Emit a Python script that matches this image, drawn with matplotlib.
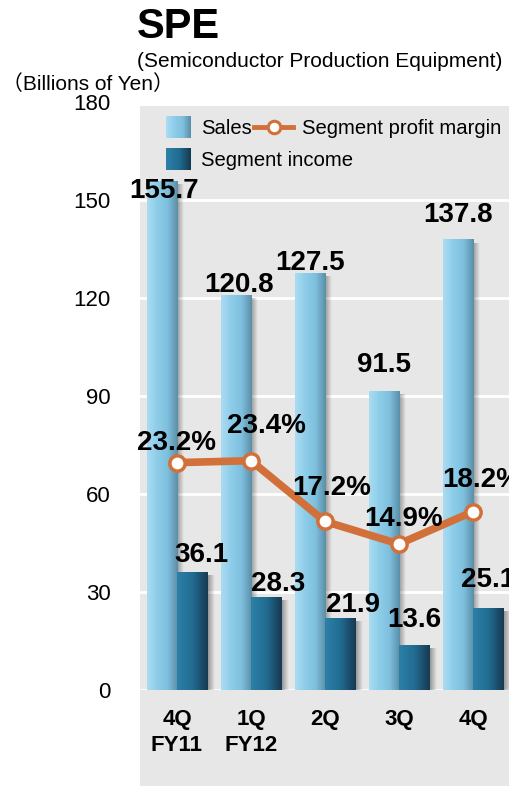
import numpy as np
import matplotlib.pyplot as plt
from matplotlib.patches import Rectangle, Patch
from matplotlib.lines import Line2D
from matplotlib.legend_handler import HandlerBase
from matplotlib.colors import LinearSegmentedColormap

plt.rcParams['font.family'] = ['Liberation Sans', 'Noto Sans CJK JP', 'DejaVu Sans']

# Data
quarters = ['4Q\nFY11', '1Q\nFY12', '2Q', '3Q', '4Q']
sales = [155.7, 120.8, 127.5, 91.5, 137.8]       # billions of yen
income = [36.1, 28.3, 21.9, 13.6, 25.1]          # billions of yen
margin = [23.2, 23.4, 17.2, 14.9, 18.2]          # %

# label nudges in pixels (dx, dy) from the top of each mark
sales_off = [(2, -10), (3, 10), (0, 11), (0, 26), (0, 25)]
income_off = [(9, 17), (12, 14), (12, 13), (0, 26), (0, 28)]
margin_off = [(-1, 20), (15, 35), (7, 33), (5, 25), (9, 32)]

W, H = 510, 786
sales_cmap = LinearSegmentedColormap.from_list('s', ['#aadcf1', '#8dcde9', '#7fc0de', '#5b8fa8'])
income_cmap = LinearSegmentedColormap.from_list('i', ['#2c80a8', '#226c92', '#163a52'])
orange = '#d2703a'

fig = plt.figure(figsize=(W / 100, H / 100), dpi=100)
fig.add_artist(Rectangle((140 / W, 0), 370 / W, 680 / H, transform=fig.transFigure,
                         facecolor='#e7e7e7', edgecolor='none', zorder=-1))

ax = fig.add_axes([140 / W, 96 / H, 370 / W, 588 / H])
ax.set_facecolor('none')


def grad_bar(x, w, h, cmap):
    g = np.linspace(0, 1, 64).reshape(1, -1)
    ax.imshow(g, cmap=cmap, extent=(x - w / 2, x + w / 2, 0, h), aspect='auto',
              interpolation='bilinear', zorder=3)
    # soft shadow on the right
    sh = np.zeros((1, 32, 4))
    sh[..., 3] = np.linspace(0.35, 0, 32)
    ax.imshow(sh, extent=(x + w / 2, x + w / 2 + 0.09, 0, h - 1), aspect='auto',
              interpolation='bilinear', zorder=2)


bw = 0.41
xs = np.arange(len(quarters))
for i in xs:
    grad_bar(i - 0.2, bw, sales[i], sales_cmap)
    grad_bar(i + 0.21, bw, income[i], income_cmap)
    ax.annotate(f'{sales[i]:.1f}', (i - 0.2, sales[i]), xytext=sales_off[i],
                textcoords='offset pixels', ha='center', va='center',
                fontsize=20, fontweight='bold', zorder=6)
    ax.annotate(f'{income[i]:.1f}', (i + 0.21, income[i]), xytext=income_off[i],
                textcoords='offset pixels', ha='center', va='center',
                fontsize=20, fontweight='bold', zorder=6, annotation_clip=False)

ax.set_xlim(-0.5, 4.5)
ax.set_ylim(0, 180)
ax.set_yticks(range(0, 181, 30))
ax.set_xticks(xs)
ax.set_xticklabels(quarters, fontsize=16, fontweight='bold', linespacing=1.3)
ax.tick_params(axis='y', length=0, labelsize=16, pad=21)
ax.tick_params(axis='x', length=0, pad=14)
ax.grid(axis='y', color='white', lw=2, zorder=1)
ax.set_axisbelow(True)
for s in ax.spines.values():
    s.set_visible(False)

# profit margin on a hidden 0-60 % scale
ax2 = ax.twinx()
ax2.set_ylim(0, 60)
ax2.axis('off')
ax2.plot(xs, margin, color=orange, lw=5.5, marker='o', ms=11, mfc='white',
         mec=orange, mew=2.5, zorder=5)
for i in xs:
    ax2.annotate(f'{margin[i]:.1f}%', (i, margin[i]), xytext=margin_off[i],
                 textcoords='offset pixels', ha='center', va='center',
                 fontsize=20, fontweight='bold', zorder=6, annotation_clip=False)


class GradHandler(HandlerBase):
    def __init__(self, cmap):
        super().__init__()
        self.cmap = cmap

    def create_artists(self, legend, orig, xd, yd, width, height, fontsize, trans):
        n = 24
        hh = height * 1.57
        arts = []
        for k in range(n):
            arts.append(Rectangle((-xd + k * width / n, -yd + (height - hh) / 2),
                                  width / n * 1.1, hh, facecolor=self.cmap(k / (n - 1)),
                                  edgecolor='none', transform=trans))
        return arts


class LongLine(HandlerBase):
    def create_artists(self, legend, orig, xd, yd, width, height, fontsize, trans):
        y = -yd + height / 2
        ln = Line2D([-xd - 0.55 * width, -xd + width], [y, y], color=orange, lw=3.5,
                    transform=trans)
        mk = Line2D([-xd + 0.25 * width], [y], marker='o', ms=9, mfc='white',
                    mec=orange, mew=2.2, ls='none', transform=trans)
        return [ln, mk]


h_sales = Patch(label='Sales')
h_inc = Patch(label='Segment income')
h_mar = Line2D([], [], label='Segment profit margin')
common = dict(frameon=False, fontsize=14.6, borderpad=0, borderaxespad=0, handlelength=1.23,
              handletextpad=0.48, columnspacing=0.8, loc='upper left')
leg1 = ax2.legend([h_sales, h_mar], ['Sales', 'Segment profit margin'], ncol=2,
                  bbox_to_anchor=(166 / W, 1 - 119 / H), bbox_transform=fig.transFigure,
                  handler_map={h_sales: GradHandler(sales_cmap), h_mar: LongLine()}, **common)
ax2.add_artist(leg1)
ax2.legend([h_inc], ['Segment income'],
           bbox_to_anchor=(166 / W, 1 - 151 / H), bbox_transform=fig.transFigure,
           handler_map={h_inc: GradHandler(income_cmap)}, **common)

fig.text(137 / W, 1 - 38 / H, 'SPE', fontsize=30, fontweight='bold', va='baseline')
fig.text(137 / W, 1 - 67 / H, '(Semiconductor Production Equipment)', fontsize=15,
         va='baseline')
fig.text(2 / W, 1 - 90 / H, '（Billions of Yen）', fontsize=15, va='baseline')

fig.savefig('out.png', dpi=100)
